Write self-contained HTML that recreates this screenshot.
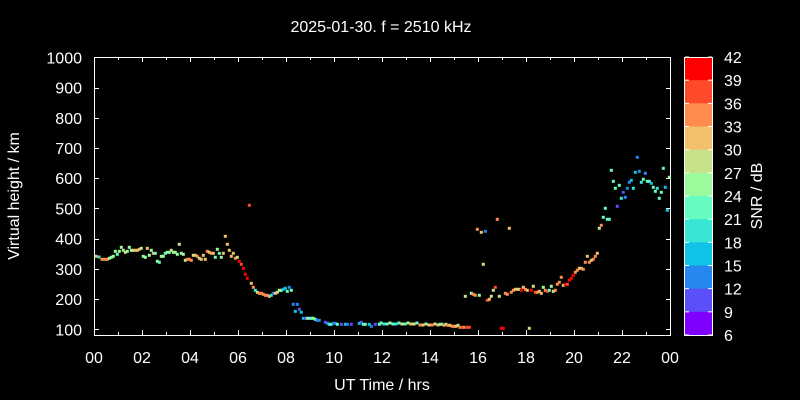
<!DOCTYPE html>
<html><head><meta charset="utf-8"><style>
html,body{margin:0;padding:0;background:#000;width:800px;height:400px;overflow:hidden}
svg text{font-family:"Liberation Sans",sans-serif;fill:#fff}
</style></head><body>
<svg id="s" width="800" height="400" xmlns="http://www.w3.org/2000/svg">
<rect width="800" height="400" fill="#000"/>
<text x="381" y="32" font-size="16" text-anchor="middle">2025-01-30. f = 2510 kHz</text>
<g id="axes" stroke="#fff" stroke-width="1" fill="none">
<rect x="94.5" y="57.5" width="576" height="278"/>
</g>
<g id="lab" font-size="16"></g>
<text x="382" y="390" font-size="16" text-anchor="middle">UT Time / hrs</text>
<text transform="translate(19,196) rotate(-90)" font-size="16" text-anchor="middle">Virtual height / km</text>
<text transform="translate(762,196) rotate(-90)" font-size="16" text-anchor="middle">SNR / dB</text>
<g id="cb"></g>
<g id="pts"></g>
</svg>
<script>
(function(){
var ns="http://www.w3.org/2000/svg";
function el(p,t,a,tx){var e=document.createElementNS(ns,t);for(var k in a)e.setAttribute(k,a[k]);if(tx!=null)e.textContent=tx;document.getElementById(p).appendChild(e);return e;}
for(var i=1;i<=10;i++){var y=329.3-(i-1)*30.22;var yy=Math.round(y)+0.5;
el('axes','line',{x1:94,y1:yy,x2:99,y2:yy});el('axes','line',{x1:666,y1:yy,x2:671,y2:yy});
el('lab','text',{x:82,y:y+6,'text-anchor':'end'},String(i*100));}
var xl=['00','02','04','06','08','10','12','14','16','18','20','22','00'];
for(var h=0;h<=24;h++){var x=Math.round(94+h*24)+0.5;var L=(h%2==0)?5:3;
el('axes','line',{x1:x,y1:335,x2:x,y2:335-L});el('axes','line',{x1:x,y1:57,x2:x,y2:57+L});
if(h%2==0)el('lab','text',{x:94+h*24,y:363,'text-anchor':'middle'},xl[h/2]);}
var cols=['#ff0000','#ff4a2a','#ff8c4c','#f2c06a','#c6e38a','#9afa9c','#66fcc0','#38e6d6','#0ec3e6','#2588f0','#5a4ff8','#8000ff'];
var tp=57,bh=(335-57)/12;
for(var i=0;i<12;i++){el('cb','rect',{x:685,y:tp+i*bh,width:27,height:bh+0.5,fill:cols[i]});}
el('cb','rect',{x:684.5,y:57.5,width:28,height:278,fill:'none',stroke:'#fff'});
for(var i=0;i<=12;i++){var y=tp+i*bh;el('cb','line',{x1:685,x2:689,y1:y,y2:y,stroke:'#fff'});el('cb','line',{x1:708,x2:712,y1:y,y2:y,stroke:'#fff'});
el('cb','text',{x:724,y:y+6,'font-size':16},String(42-3*i));}
var C={R:'#ff0000',R2:'#ff4a2a',R3:'#ff8c4c',O:'#f2c06a',Y:'#c6e38a',G:'#9afa9c',T:'#66fcc0',C:'#38e6d6',S:'#0ec3e6',B:'#2588f0',P:'#5a4ff8'};
var z1="48,649,O;57,651,C;66,658,R3;74,658,R3;82,658,R3;88,655,G;94,652,G;100,649,G;106,634,G;112,643,T;118,634,G;124,622,G;130,631,Y;136,637,Y;142,634,G;148,622,G;154,631,G;160,631,Y;166,631,O;172,631,O;178,628,O;184,625,Y;190,649,G;196,652,G;202,625,O;208,646,G;214,631,G;220,640,O;226,640,T;232,664,G;238,667,T;244,649,G;250,649,G;256,640,T;262,637,G;268,637,G;274,631,Y;280,637,G;286,637,G;292,643,G;298,613,Y;304,640,G;310,643,G;316,661,Y;322,658,R3;328,658,R3;334,661,R3;340,646,Y;346,646,O;352,649,R3;358,655,Y;364,658,O;370,646,O;376,658,O;382,634,R3;388,637,O;394,640,R3;400,640,O;406,652,T;412,628,G;418,640,T;424,652,G;430,640,O;436,589,O;442,613,O;448,631,O;454,649,O;460,640,O;466,655,R3;472,652,Y;478,664,R;484,673,R2;490,685,R;496,703,R;502,715,R;508,496,R2;514,730,O;520,742,R3;526,751,C;532,757,Y;538,760,R3;544,760,R3;550,763,R3;556,766,R3;562,766,R3;568,769,O;574,766,C;580,760,B;586,760,O;592,757,Y;598,751,G;604,751,G;610,748,S;616,745,S;622,754,T;628,742,B;634,751,T;640,793,B;646,814,S;652,793,B;658,808,P;664,817,S;670,835,S;676,835,P;682,835,G;688,835,T;694,835,T;700,835,G;706,838,T;712,841,B;718,841,B;736,847,P;742,850,B;748,853,C;754,853,T;760,850,B;766,850,B;772,853,T;784,853,P;796,853,S;802,853,B;814,853,P;838,850,S;844,847,P;850,853,T;856,853,T;868,853,S;874,859,B;886,853,P;898,853,T";
var z2="0,853,G;6,853,T;12,856,R3;18,853,Y;24,856,R3;30,856,O;36,859,R3;42,859,R3;48,859,O;54,856,Y;60,862,R3;66,862,R2;72,862,R3;82,862,R2;88,862,R2;76,769,Y;94,760,G;100,763,R3;106,766,R3;112,568,R3;118,766,G;124,577,O;130,673,Y;136,574,B;142,781,R2;148,778,O;154,769,Y;160,751,Y;166,742,R2;172,538,R3;178,769,Y;184,865,R;190,865,R;196,760,R3;202,763,R3;208,565,O;214,757,R3;220,751,R3;226,748,O;232,748,O;238,748,Y;244,751,R;250,742,O;256,748,R3;262,751,O;268,865,Y;274,751,R;280,739,Y;286,757,R2;292,757,R3;298,754,O;304,760,O;310,742,G;316,751,R3;322,754,R2;328,751,T;334,739,G;340,754,Y;346,751,R3;352,733,R3;358,727,R3;364,712,R3;370,736,O;376,733,R;382,733,R2;388,721,R;394,715,R;400,706,R;406,697,R3;412,691,R3;418,685,O;424,685,O;430,688,R3;436,667,R3;442,649,O;448,667,R3;454,661,O;460,658,R3;466,649,R3;472,640,O;478,565,Y;484,556,R3;490,532,T;496,505,T;502,538,T;508,538,T;514,391,T;520,424,T;526,445,T;532,499,P;538,436,T;544,475,C;550,457,P;556,472,B;562,445,B;568,427,B;574,421,S;580,445,C;586,397,S;592,352,B;598,394,B;604,427,C;610,418,T;616,400,B;622,424,T;628,424,T;634,430,S;640,442,T;646,454,T;652,445,C;658,475,T;664,457,T;670,385,T;676,442,S;682,511,S;688,412,G";
function add(s,ox){s.split(';').forEach(function(p){var a=p.split(',');var x=ox+(+a[0])/3,y=40+(+a[1])/3;
el('pts','rect',{x:(x-1.5).toFixed(1),y:(y-1.5).toFixed(1),width:3,height:3,fill:C[a[2]]});});}
add(z1,80);add(z2,440);
var g=['T','C','T','G','T','C','T','Y','T','G','O','Y','T','R3','O','G','O','R3','Y','O'];
for(var i=0;i<20;i++){var x=381+i*3;var y=324+(i>12?1:0)+(i%3==0?-1:0);
el('pts','rect',{x:x-1.5,y:y-1.5,width:3,height:3,fill:C[g[i]]});}
})();
</script>
</body></html>
